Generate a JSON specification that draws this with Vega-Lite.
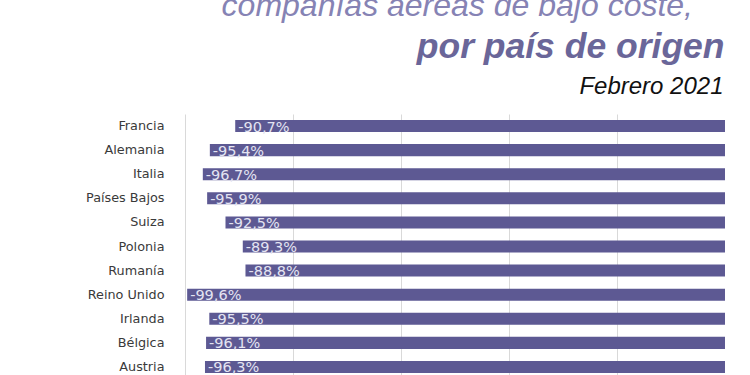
{
  "$schema": "https://vega.github.io/schema/vega-lite/v6.json",
  "autosize": "none",
  "padding": {"left": 185, "top": 114, "right": 25, "bottom": 0},
  "width": 540,
  "height": 265,
  "background": "white",
  "title": {
    "text": "compañías aéreas de bajo coste,",
    "anchor": "end",
    "frame": "group",
    "font": "Liberation Sans",
    "fontSize": 32,
    "fontStyle": "italic",
    "fontWeight": "normal",
    "color": "#8683b4",
    "dx": -32,
    "dy": -2,
    "offset": 4
  },
  "config": {
    "view": {"stroke": null},
    "locale": {
      "number": {
        "decimal": ",",
        "thousands": ".",
        "grouping": [3],
        "currency": ["", " €"],
        "minus": "-",
        "percent": "%"
      }
    }
  },
  "data": {
    "values": [
      {"pais": "Francia", "variacion": -0.907},
      {"pais": "Alemania", "variacion": -0.954},
      {"pais": "Italia", "variacion": -0.967},
      {"pais": "Países Bajos", "variacion": -0.959},
      {"pais": "Suiza", "variacion": -0.925},
      {"pais": "Polonia", "variacion": -0.893},
      {"pais": "Rumanía", "variacion": -0.888},
      {"pais": "Reino Unido", "variacion": -0.996},
      {"pais": "Irlanda", "variacion": -0.955},
      {"pais": "Bélgica", "variacion": -0.961},
      {"pais": "Austria", "variacion": -0.963}
    ]
  },
  "encoding": {
    "y": {
      "field": "pais",
      "type": "nominal",
      "sort": null,
      "scale": {"paddingInner": 0.5, "paddingOuter": 0.25},
      "axis": {
        "title": "Febrero 2021",
        "titleFont": "Liberation Sans",
        "titleFontSize": 24,
        "titleFontStyle": "italic",
        "titleFontWeight": "normal",
        "titleColor": "#111111",
        "titleAngle": 0,
        "titleAlign": "right",
        "titleBaseline": "alphabetic",
        "titleX": 538,
        "titleY": -21,
        "ticks": false,
        "domain": false,
        "labelFont": "DejaVu Sans",
        "labelFontSize": 12.8,
        "labelColor": "#3a3a3a",
        "labelPadding": 21
      }
    },
    "x": {
      "field": "variacion",
      "type": "quantitative",
      "scale": {"domain": [-1, 0], "nice": false},
      "axis": {
        "orient": "top",
        "title": "por país de origen",
        "titleFont": "Liberation Sans",
        "titleFontSize": 35.5,
        "titleFontStyle": "italic",
        "titleFontWeight": "bold",
        "titleColor": "#6a6699",
        "titleAlign": "right",
        "titleBaseline": "alphabetic",
        "titleX": 539,
        "titleY": -57,
        "labels": false,
        "ticks": false,
        "domain": false,
        "grid": true,
        "gridColor": "#d9d9d9",
        "values": [-1, -0.8, -0.6, -0.4, -0.2]
      }
    }
  },
  "layer": [
    {
      "mark": {"type": "bar", "color": "#5d5993"}
    },
    {
      "mark": {
        "type": "text",
        "align": "left",
        "baseline": "middle",
        "dx": 3,
        "dy": 1.5,
        "font": "DejaVu Sans",
        "fontSize": 14.5,
        "color": "#e4e4f2"
      },
      "encoding": {
        "text": {"field": "variacion", "type": "quantitative", "format": ".1%"}
      }
    }
  ]
}
